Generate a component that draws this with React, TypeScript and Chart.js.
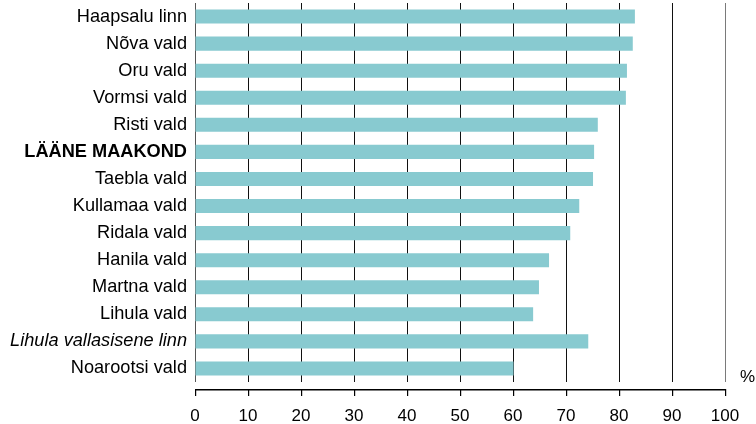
import React, { useEffect, useRef } from "react";
import { Chart, registerables } from "chart.js";

Chart.register(...registerables);

const categories = [
  "Haapsalu linn",
  "Nõva vald",
  "Oru vald",
  "Vormsi vald",
  "Risti vald",
  "LÄÄNE MAAKOND",
  "Taebla vald",
  "Kullamaa vald",
  "Ridala vald",
  "Hanila vald",
  "Martna vald",
  "Lihula vald",
  "Lihula vallasisene linn",
  "Noarootsi vald",
];

const values = [83.0, 82.6, 81.5, 81.3, 76.0, 75.3, 75.1, 72.5, 70.8, 66.8, 64.9, 63.8, 74.2, 60.1];

const boldCategories = ["LÄÄNE MAAKOND"];
const italicCategories = ["Lihula vallasisene linn"];

const xMin = 0;
const xMax = 100;
const xStep = 10;
const unitLabel = "%";

const FONT = "'Liberation Sans', Arial, Helvetica, sans-serif";

export default function App() {
  const ref = useRef<HTMLCanvasElement | null>(null);

  useEffect(() => {
    if (!ref.current) return;

    const axisPlugin = {
      id: "axisPlugin",
      afterDraw(chart: any) {
        const { ctx, chartArea } = chart;
        const xs = chart.scales.x;
        const y = Math.round(chartArea.bottom + 7);
        const x0 = Math.round(xs.getPixelForValue(xMin));
        const x1 = Math.round(xs.getPixelForValue(xMax));
        ctx.save();
        ctx.globalAlpha = 1;
        ctx.globalCompositeOperation = "source-over";
        ctx.fillStyle = "#000000";
        ctx.fillRect(x0, y, x1 - x0 + 1, 1.5);
        for (let v = xMin; v <= xMax; v += xStep) {
          const px = Math.round(xs.getPixelForValue(v));
          ctx.fillRect(px, y, 1.2, 7);
        }
        ctx.font = `17px ${FONT}`;
        ctx.textAlign = "left";
        ctx.textBaseline = "alphabetic";
        ctx.fillText(unitLabel, chartArea.right + 15, chartArea.bottom);
        ctx.restore();
      },
    };

    const chart = new Chart(ref.current, {
      type: "bar",
      data: {
        labels: categories,
        datasets: [
          {
            data: values,
            backgroundColor: "#88cad0",
            borderWidth: 0,
            barPercentage: 0.52,
            categoryPercentage: 1,
          },
        ],
      },
      options: {
        indexAxis: "y",
        animation: false,
        responsive: false,
        maintainAspectRatio: false,
        layout: { padding: { top: 3, right: 31, left: 0, bottom: 0 } },
        plugins: {
          legend: { display: false },
          tooltip: { enabled: false },
          title: { display: false },
        },
        scales: {
          x: {
            min: xMin,
            max: xMax,
            position: "bottom",
            border: { display: false },
            grid: {
              display: true,
              drawOnChartArea: true,
              drawTicks: false,
              lineWidth: 1,
              color: (c: any) => {
                const v = c.tick ? c.tick.value : 0;
                if (v === xMax) return "#7a7a7a";
                if (v === xMin) return "#555555";
                return "#111111";
              },
            },
            ticks: {
              stepSize: xStep,
              color: "#000000",
              padding: 24,
              maxRotation: 0,
              autoSkip: false,
              font: { family: FONT, size: 17 },
            },
            afterFit: (scale: any) => {
              scale.height = 42;
              scale.paddingLeft = 0;
              scale.paddingRight = 0;
            },
          },
          y: {
            position: "left",
            border: { display: false },
            grid: { display: false, drawTicks: false },
            ticks: {
              color: "#000000",
              padding: 8,
              autoSkip: false,
              font: (c: any) => {
                const label = categories[c.index];
                return {
                  family: FONT,
                  size: 18.2,
                  weight: boldCategories.includes(label) ? "bold" : "normal",
                  style: italicCategories.includes(label) ? "italic" : "normal",
                };
              },
            },
            afterFit: (scale: any) => {
              scale.width = 195;
              scale.paddingTop = 0;
              scale.paddingBottom = 0;
            },
          },
        },
      },
      plugins: [axisPlugin],
    });

    return () => chart.destroy();
  }, []);

  return (
    <div style={{ position: "absolute", left: 0, top: 0, width: 756, height: 424, background: "#fff" }}>
      <canvas ref={ref} width={756} height={424} style={{ display: "block", width: 756, height: 424 }} />
    </div>
  );
}
